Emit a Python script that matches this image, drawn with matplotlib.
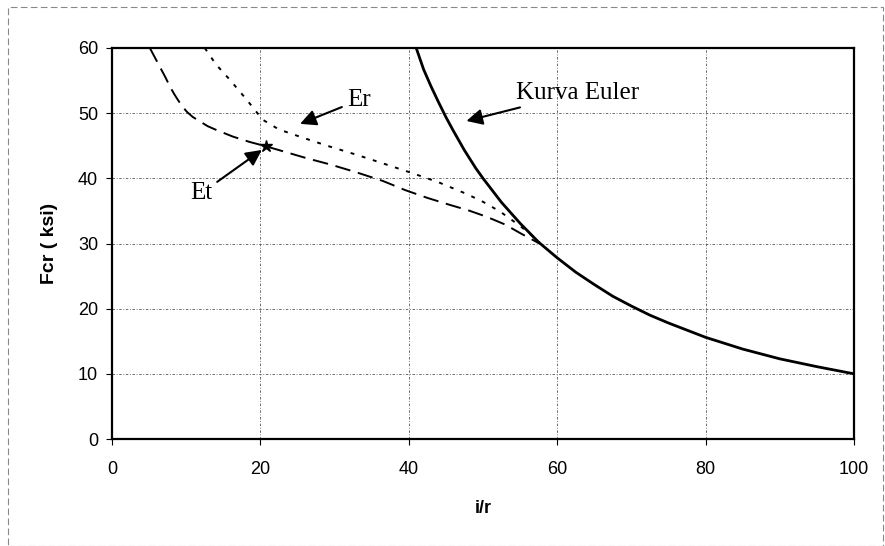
import matplotlib.pyplot as plt
from matplotlib.patches import Rectangle

# Euler curve (solid)
euler_x = [41.0, 42, 43, 44, 45, 46, 47.5, 49, 50, 52.5, 55, 57.5, 60, 62.5, 65, 67.5,
           70, 72.5, 75, 77.5, 80, 85, 90, 95, 100]
euler_y = [60.0, 56.7, 54.1, 51.7, 49.4, 47.3, 44.3, 41.6, 40.0, 36.3, 33.1, 30.2, 27.8,
           25.6, 23.7, 21.9, 20.4, 19.0, 17.8, 16.7, 15.6, 13.8, 12.3, 11.1, 10.0]

# Er curve (dotted)
er_x = [12.5, 14, 15.9, 18.2, 20.3, 22.5, 25.3, 29, 33, 36.5, 40.2, 44, 47.8, 50, 52.3, 55.0, 56.6, 57.6]
er_y = [60.0, 57.5, 55.1, 52.0, 49.0, 47.5, 46.4, 45.0, 43.6, 42.3, 40.9, 39.4, 37.6, 36.4, 34.9, 32.7, 31.2, 30.2]

# Et curve (dashed)
et_x = [5.1, 5.8, 6.5, 7.2, 7.8, 8.4, 8.9, 9.5, 10.1, 10.9, 11.9, 12.9, 14.1, 16.3, 18.5, 20.8,
        23.5, 26.2, 29.5, 33.0, 36.5, 39.5, 42.5, 45.6, 48, 50.5, 53, 55.0, 57.6]
et_y = [60.0, 58.5, 57.0, 55.5, 54.1, 52.9, 52.0, 51.0, 50.2, 49.4, 48.7, 48.0, 47.4, 46.4, 45.6,
        44.9, 44.0, 43.1, 42.1, 40.9, 39.6, 38.2, 37.0, 35.9, 35.1, 34.1, 32.9, 31.6, 30.0]

et_point = (20.8, 44.9)

x_ticks = [0, 20, 40, 60, 80, 100]
y_ticks = [0, 10, 20, 30, 40, 50, 60]


def main():
    fig = plt.figure(figsize=(8.85, 5.46), dpi=100)
    ax = fig.add_axes([112 / 885, 1 - 439 / 546, (854 - 112) / 885, (439 - 48) / 546])

    # outer chart border
    fig.patches.append(Rectangle((8 / 885, 0.0), 875 / 885, 1 - 7 / 546,
                                 transform=fig.transFigure, fill=False,
                                 edgecolor="#888888", linewidth=0.8,
                                 linestyle=(0, (6, 3))))

    ax.grid(True, color="#555555", linestyle=(0, (3, 2, 1, 2)), linewidth=0.6)
    ax.set_axisbelow(True)

    ax.plot(euler_x, euler_y, color="black", linewidth=2.0, solid_capstyle="round")
    ax.plot(er_x, er_y, color="black", linewidth=1.4, linestyle=(0, (2, 4)))
    ax.plot(et_x, et_y, color="black", linewidth=1.4, linestyle=(0, (8, 4)))
    ax.plot([et_point[0]], [et_point[1]], marker="*", color="black", markersize=9)

    ax.set_xlim(0, 100)
    ax.set_ylim(0, 60)
    ax.set_xticks(x_ticks)
    ax.set_yticks(y_ticks)
    ax.tick_params(direction="out", length=4, width=0.8, labelsize=13)
    for lab in ax.get_xticklabels() + ax.get_yticklabels():
        lab.set_family("Liberation Sans")
    ax.tick_params(axis="x", pad=12)
    ax.tick_params(axis="y", pad=6)

    for s in ax.spines.values():
        s.set_linewidth(1.6)
        s.set_color("black")

    ax.set_xlabel("i/r", fontsize=13, fontweight="bold", family="Liberation Sans", labelpad=16)
    ax.set_ylabel("Fcr ( ksi)", fontsize=14, fontweight="bold", family="Liberation Sans", labelpad=14)

    arrow = dict(arrowstyle="-|>,head_length=0.6,head_width=0.3", color="black",
                 linewidth=1.5, mutation_scale=16)
    ax.annotate("Er", xy=(25.0, 48.2), xytext=(31.7, 52.0), fontsize=18,
                family="Liberation Serif", va="center", ha="left", arrowprops=arrow)
    ax.annotate("Et", xy=(20.5, 44.6), xytext=(13.5, 37.7), fontsize=18,
                family="Liberation Serif", va="center", ha="right", arrowprops=arrow)
    ax.annotate("Kurva Euler", xy=(47.4, 48.7), xytext=(54.4, 53.1), fontsize=18,
                family="Liberation Serif", va="center", ha="left", arrowprops=arrow)

    fig.savefig("out.png", dpi=100)
    plt.close(fig)


if __name__ == "__main__":
    main()
